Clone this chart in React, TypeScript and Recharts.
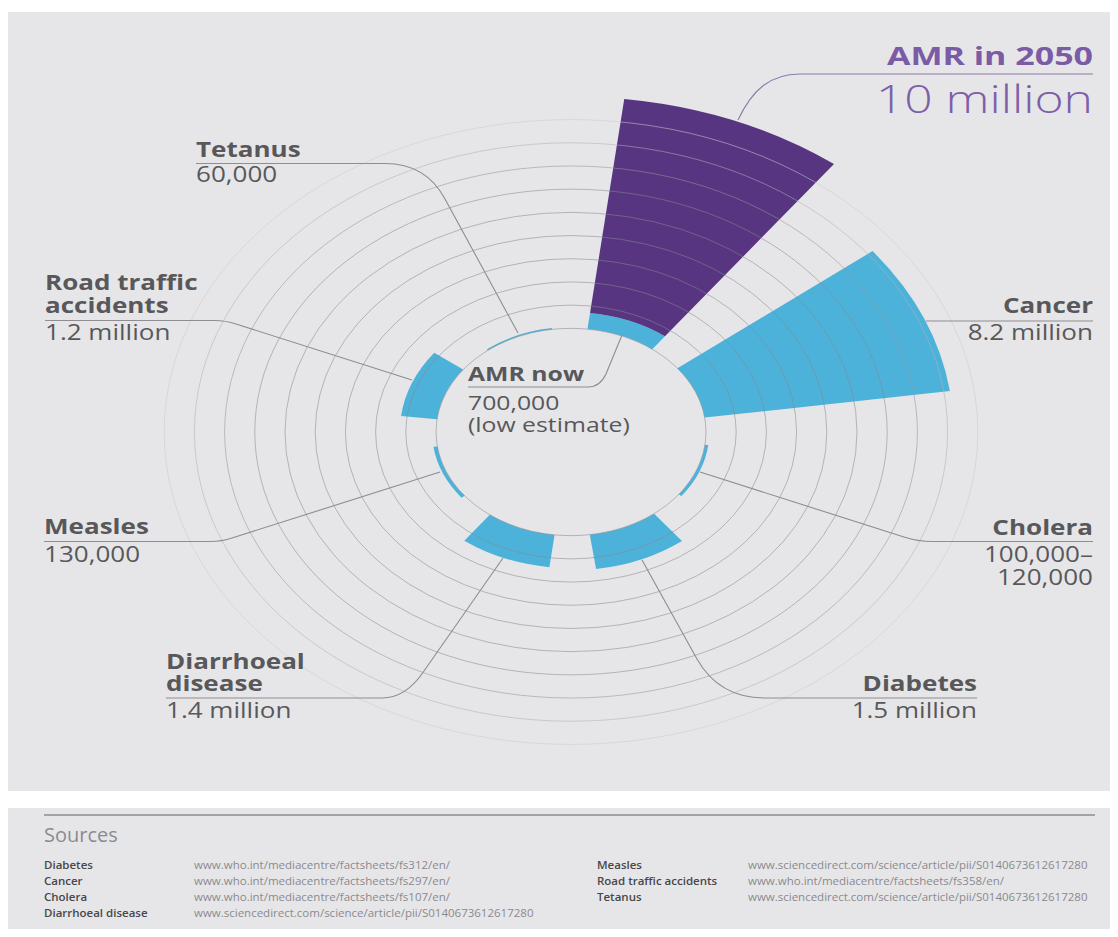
import {
  PolarAngleAxis,
  PolarGrid,
  PolarRadiusAxis,
  RadialBar,
  RadialBarChart,
} from "recharts";

// deaths per year, in millions
const categories = [
  "AMR",
  "Cancer",
  "Cholera",
  "Diabetes",
  "Diarrhoeal disease",
  "Measles",
  "Road traffic accidents",
  "Tetanus",
];
const deathsNow = [0.7, 8.2, 0.11, 1.5, 1.4, 0.13, 1.2, 0.06];
const amr2050 = 10;
const radiusDomain = [0, 10];

const valueLabels = [
  ["700,000", "(low estimate)"],
  ["8.2 million"],
  ["100,000–", "120,000"],
  ["1.5 million"],
  ["1.4 million"],
  ["130,000"],
  ["1.2 million"],
  ["60,000"],
];
const nameLabels = [
  ["AMR now"],
  ["Cancer"],
  ["Cholera"],
  ["Diabetes"],
  ["Diarrhoeal", "disease"],
  ["Measles"],
  ["Road traffic", "accidents"],
  ["Tetanus"],
];

const sourceNames = [
  "Diabetes",
  "Cancer",
  "Cholera",
  "Diarrhoeal disease",
  "Measles",
  "Road traffic accidents",
  "Tetanus",
];
const sourceUrls = [
  "www.who.int/mediacentre/factsheets/fs312/en/",
  "www.who.int/mediacentre/factsheets/fs297/en/",
  "www.who.int/mediacentre/factsheets/fs107/en/",
  "www.sciencedirect.com/science/article/pii/S0140673612617280",
  "www.sciencedirect.com/science/article/pii/S0140673612617280",
  "www.who.int/mediacentre/factsheets/fs358/en/",
  "www.sciencedirect.com/science/article/pii/S0140673612617280",
];

const CYAN = "#4db2d9";
const PURPLE = "#573581";
const TEXT = "#58585b";
const LEADER = "#8d8d92";
const SX = 1.24; // the artwork is stretched sideways

// callout placement, same order as categories
const callouts = [
  { x: 468, anchor: "start", nameY: [380.5], valueY: [410, 432], size: 20,
    leader: "M468 387 H588 Q600 387 606 374 L622 335" },
  { x: 1093, anchor: "end", nameY: [313], valueY: [340], size: 21,
    leader: "M1093 321 H926" },
  { x: 1093, anchor: "end", nameY: [535], valueY: [562, 585], size: 21,
    leader: "M1093 541.5 H932 Q918 541.5 904 537 L700 472" },
  { x: 977, anchor: "end", nameY: [691], valueY: [718], size: 21,
    leader: "M977 698 H765 Q719 698 697 659 L642 560" },
  { x: 166, anchor: "start", nameY: [669, 691], valueY: [718], size: 21,
    leader: "M166 698 H382 Q406 698 424 671 L503 558" },
  { x: 44, anchor: "start", nameY: [534], valueY: [562], size: 21,
    leader: "M44 541.5 H210 Q222 541.5 232 538 L440 472" },
  { x: 45, anchor: "start", nameY: [290, 312.5], valueY: [340], size: 21,
    leader: "M45 320.5 H214 Q226 320.5 236 324 L412 380" },
  { x: 196, anchor: "start", nameY: [157], valueY: [181.5], size: 21,
    leader: "M196 163.5 H385 Q426 163.5 445 199 L518 333" },
];

const rows = categories.map((name, i) => ({
  name,
  now: deathsNow[i],
  growth: i === 0 ? amr2050 - deathsNow[0] : 0,
}));

// drawn twice: bars underneath, rings on top so they show through the wedges
function RoseChart({ layer }: { layer: "bars" | "rings" }) {
  const shown = layer === "bars" ? 1 : 0;
  return (
    <RadialBarChart
      width={900}
      height={900}
      data={rows}
      layout="centric"
      cx={450}
      cy={450}
      innerRadius={135}
      outerRadius={437}
      startAngle={45}
      endAngle={-315}
      barSize={30}
      margin={{ top: 0, right: 0, bottom: 0, left: 0 }}
    >
      <defs>
        {/* rings fade out towards the rim; the 10 ring is not drawn */}
        <radialGradient
          id={"ringFade-" + layer}
          gradientUnits="userSpaceOnUse"
          cx={450}
          cy={450}
          r={437}
        >
          <stop offset="0.72" stopColor="#868690" />
          <stop offset="0.793" stopColor="#94949a" />
          <stop offset="0.862" stopColor="#b0b0b5" />
          <stop offset="0.931" stopColor="#cbcbcf" />
          <stop offset="0.96" stopColor="#cbcbcf" stopOpacity={0} />
          <stop offset="1" stopColor="#cbcbcf" stopOpacity={0} />
        </radialGradient>
      </defs>
      <PolarAngleAxis
        type="category"
        dataKey="name"
        tick={false}
        axisLine={false}
        tickLine={false}
      />
      <PolarRadiusAxis
        type="number"
        domain={radiusDomain}
        tickCount={11}
        tick={false}
        axisLine={false}
        tickLine={false}
      />
      <RadialBar
        dataKey="now"
        stackId="deaths"
        fill={CYAN}
        fillOpacity={shown}
        isAnimationActive={false}
      />
      <RadialBar
        dataKey="growth"
        stackId="deaths"
        fill={PURPLE}
        fillOpacity={shown}
        isAnimationActive={false}
      />
      {layer === "rings" && (
        <PolarGrid
          gridType="circle"
          radialLines={false}
          stroke={`url(#ringFade-${layer})`}
          strokeOpacity={0.62}
        />
      )}
    </RadialBarChart>
  );
}

function Callout({ i }: { i: number }) {
  const c = callouts[i];
  const anchor = c.anchor as "start" | "end";
  return (
    <g>
      <path d={c.leader} fill="none" stroke={LEADER} strokeWidth={1.1} />
      {nameLabels[i].map((t, k) => (
        <text
          key={"n" + k}
          transform={`translate(${c.x},${c.nameY[k]}) scale(${SX},1)`}
          textAnchor={anchor}
          fontSize={c.size}
          fontWeight={700}
          fill={TEXT}
        >
          {t}
        </text>
      ))}
      {valueLabels[i].map((t, k) => (
        <text
          key={"v" + k}
          transform={`translate(${c.x},${c.valueY[k]}) scale(${SX},1)`}
          textAnchor={anchor}
          fontSize={c.size}
          fill={TEXT}
        >
          {t}
        </text>
      ))}
    </g>
  );
}

const chartBox = {
  position: "absolute" as const,
  left: 121,
  top: -18.5,
  width: 900,
  height: 900,
  transform: "scaleY(0.768)",
  transformOrigin: "450px 450px",
};

export default function App() {
  return (
    <div
      style={{
        position: "relative",
        width: 1118,
        height: 937,
        margin: -8,
        fontFamily: "'Open Sans', sans-serif",
        overflow: "hidden",
      }}
    >
      <svg width={1118} height={937} style={{ position: "absolute", left: 0, top: 0 }}>
        <rect x={0} y={0} width={1118} height={937} fill="#ffffff" />
        <rect x={7} y={12} width={1111} height={779} fill="#e6e6e8" />
        <rect x={7} y={808} width={1111} height={129} fill="#e6e6e8" />
      </svg>

      <div style={chartBox}>
        <RoseChart layer="bars" />
      </div>
      <div style={{ ...chartBox, pointerEvents: "none" }}>
        <RoseChart layer="rings" />
      </div>

      <svg
        width={1118}
        height={937}
        style={{ position: "absolute", left: 0, top: 0, pointerEvents: "none" }}
      >
        {callouts.map((_, i) => (
          <Callout key={i} i={i} />
        ))}

        <path
          d="M1093 74 H800 C770 74 752 90 738 120"
          fill="none"
          stroke="#8c7aa8"
          strokeWidth={1.1}
        />
        <text
          transform={`translate(1093,65) scale(1.36,1)`}
          textAnchor="end"
          fontSize={25}
          fontWeight={700}
          fill="#7b5aa6"
        >
          AMR in 2050
        </text>
        <text
          transform={`translate(1093,113) scale(1.31,1)`}
          textAnchor="end"
          fontSize={38}
          fontWeight={300}
          fill="#7d5fa8"
        >
          10 million
        </text>

        <rect x={44} y={814} width={1051} height={2} fill="#a3a3a5" />
        <text x={44} y={842} fontSize={20} fill="#8b8b8f">
          Sources
        </text>
        {sourceNames.map((name, i) => {
          const col = i < 4 ? 0 : 1;
          const row = i < 4 ? i : i - 4;
          const y = 869 + row * 16;
          return (
            <g key={name}>
              <text x={col ? 597 : 44} y={y} fontSize={11.5} fontWeight={600} fill="#47474a">
                {name}
              </text>
              <text x={col ? 748 : 194} y={y} fontSize={11.5} fill="#8a8a8e">
                {sourceUrls[i]}
              </text>
            </g>
          );
        })}
      </svg>
    </div>
  );
}
